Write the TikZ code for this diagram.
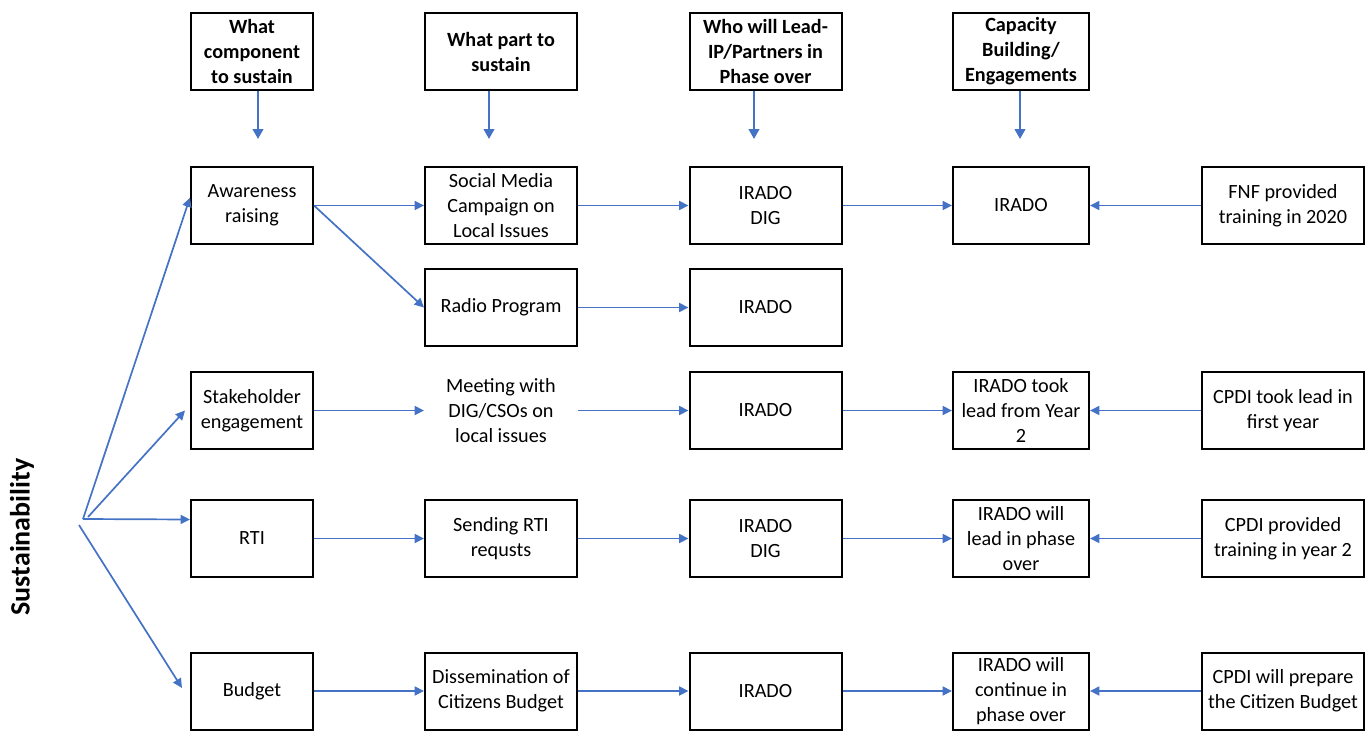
\documentclass[tikz,border=0pt]{standalone}
\usepackage{fontspec}
\setmainfont{Carlito}
\usetikzlibrary{arrows.meta, calc}
\usepackage{xcolor}
\definecolor{flowblue}{HTML}{4472C4}

\begin{document}
\begin{tikzpicture}[x=0.5pt, y=-0.5pt, font=\fontsize{10.1}{12.5}\selectfont,
  stagebox/.style={draw, line width=1pt, align=center, inner sep=1pt, minimum height=38.5pt},
  headbox/.style={stagebox, font=\fontsize{10.1}{12.5}\selectfont\bfseries},
  flow/.style={flowblue, line width=0.85pt, -{Triangle[length=4.7pt, width=4.5pt]}},
  drop/.style={flowblue, line width=1.1pt, -{Triangle[length=5pt, width=5.3pt]}}]
\useasboundingbox (0,0) rectangle (1371,739);

% headers
\node[headbox, minimum width=61pt] (h1) at (252,51.5) {What\\component\\to sustain};
\node[headbox, minimum width=76pt] (h2) at (501,51.5) {What part to\\sustain};
\node[headbox, minimum width=76pt] (h3) at (765.5,51.5) {Who will Lead-\\IP/Partners in\\Phase over};
\node[headbox, minimum width=68pt] (h4) at (1021,51.5) {Capacity\\Building/\\Engagements};

\coordinate (t1) at (258,139);
\coordinate (t2) at (489,139);
\coordinate (t3) at (754,139);
\coordinate (t4) at (1020,139);
\draw[drop] (h1.south -| t1) -- (t1);
\draw[drop] (h2.south -| t2) -- (t2);
\draw[drop] (h3.south -| t3) -- (t3);
\draw[drop] (h4.south -| t4) -- (t4);

% components
\node[font=\fontsize{14}{16}\selectfont\bfseries, rotate=90] (sust) at (22,537) {Sustainability};
\node[stagebox, minimum width=61pt] (aware) at (252,205.5) {Awareness\\raising};
\node[stagebox, minimum width=61pt] (stake) at (252,410.5) {Stakeholder\\engagement};
\node[stagebox, minimum width=61pt] (rti) at (252,538.5) {RTI};
\node[stagebox, minimum width=61pt] (budget) at (252,691) {Budget};

% parts
\node[stagebox, minimum width=76pt] (social) at (501,205.5) {Social Media\\Campaign on\\Local Issues};
\node[stagebox, minimum width=76pt] (radio) at (501,307.5) {Radio Program};
\node[stagebox, draw=none, minimum width=76pt] (meet) at (501,410.5) {Meeting with\\DIG/CSOs on\\local issues};
\node[stagebox, minimum width=76pt] (send) at (501,538.5) {Sending RTI\\requsts};
\node[stagebox, minimum width=76pt] (dissem) at (501,691) {Dissemination of\\Citizens Budget};

% leads
\node[stagebox, minimum width=76pt] (lead1) at (765.5,205.5) {IRADO\\DIG};
\node[stagebox, minimum width=76pt] (lead2) at (765.5,307.5) {IRADO};
\node[stagebox, minimum width=76pt] (lead3) at (765.5,410.5) {IRADO};
\node[stagebox, minimum width=76pt] (lead4) at (765.5,538.5) {IRADO\\DIG};
\node[stagebox, minimum width=76pt] (lead5) at (765.5,691) {IRADO};

% capacity building
\node[stagebox, minimum width=68pt] (cap1) at (1021,205.5) {IRADO};
\node[stagebox, minimum width=68pt] (cap3) at (1021,410.5) {IRADO took\\lead from Year\\2};
\node[stagebox, minimum width=68pt] (cap4) at (1021,538.5) {IRADO will\\lead in phase\\over};
\node[stagebox, minimum width=68pt] (cap5) at (1021,691) {IRADO will\\continue in\\phase over};

% support
\node[stagebox, minimum width=81pt] (fnf) at (1283,205.5) {FNF provided\\training in 2020};
\node[stagebox, minimum width=81pt] (cpdi3) at (1283,410.5) {CPDI took lead in\\first year};
\node[stagebox, minimum width=81pt] (cpdi4) at (1283,538.5) {CPDI provided\\training in year 2};
\node[stagebox, minimum width=81pt] (cpdi5) at (1283,691) {CPDI will prepare\\the Citizen Budget};

% fan out of sustainability
\coordinate (hub) at (83,519);
\coordinate (hubup) at (88,517);
\coordinate (hubdown) at (79,525);
\draw[flow] (hub) -- ($(aware.west)+(0,-8)$);
\draw[flow] (hubup) -- ($(stake.west)+(-5,0)$);
\draw[flow] (hub) -- ($(rti.west)+(0,-19)$);
\draw[flow] (hubdown) -- ($(budget.west)+(-8,-3)$);

\draw[flow] (aware.east) -- (social.west);
\draw[flow] (aware.east) -- (radio.west);
\draw[flow] (social.east) -- (lead1.west);
\draw[flow] (lead1.east) -- (cap1.west);
\draw[flow] (fnf.west) -- (cap1.east);
\draw[flow] (radio.east) -- (lead2.west);

\draw[flow] (stake.east) -- (meet.west);
\draw[flow] (meet.east) -- (lead3.west);
\draw[flow] (lead3.east) -- (cap3.west);
\draw[flow] (cpdi3.west) -- (cap3.east);

\draw[flow] (rti.east) -- (send.west);
\draw[flow] (send.east) -- (lead4.west);
\draw[flow] (lead4.east) -- (cap4.west);
\draw[flow] (cpdi4.west) -- (cap4.east);

\draw[flow] (budget.east) -- (dissem.west);
\draw[flow] (dissem.east) -- (lead5.west);
\draw[flow] (lead5.east) -- (cap5.west);
\draw[flow] (cpdi5.west) -- (cap5.east);
\end{tikzpicture}
\end{document}
